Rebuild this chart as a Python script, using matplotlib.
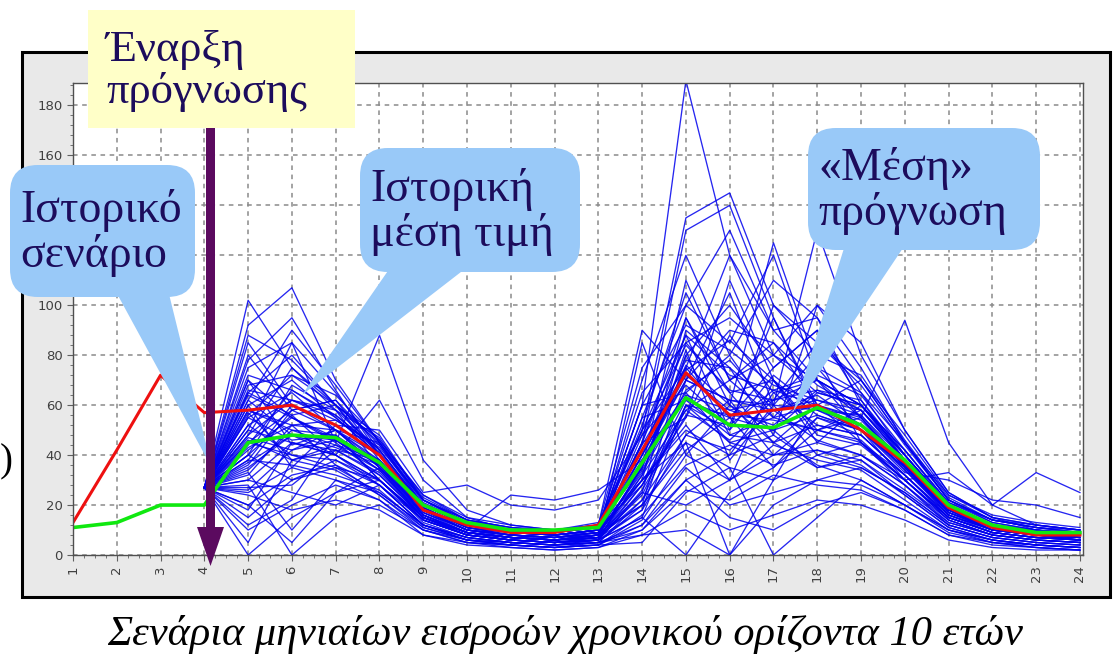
import matplotlib.pyplot as plt
from matplotlib.patches import Rectangle, FancyBboxPatch, Polygon
from matplotlib.ticker import MultipleLocator, AutoMinorLocator

# ---- data ----
months = list(range(1, 25))
hist_mean = [13, 42, 72, 57, 58, 60, 52, 40, 18, 12, 9, 9, 12, 42, 73, 56, 58, 60, 50, 37, 19, 11, 8, 8]
mean_forecast = [11, 13, 20, 20, 45, 48, 47, 37, 20, 13, 10, 10, 11, 37, 63, 52, 51, 59, 52, 38, 20, 12, 9, 9]

forecast_months = list(range(4, 25))
start_value = 27
# scenario values for months 5..24
scenarios = [
    [102, 75, 60, 40, 20, 12, 9, 8, 10, 60, 190, 120, 80, 70, 60, 40, 20, 12, 10, 8],
    [92, 107, 70, 45, 22, 14, 10, 9, 12, 50, 135, 145, 100, 85, 70, 45, 22, 13, 10, 9],
    [85, 60, 50, 35, 18, 10, 8, 6, 8, 45, 130, 140, 95, 60, 55, 35, 18, 10, 8, 6],
    [75, 85, 65, 42, 20, 12, 9, 8, 10, 70, 120, 80, 110, 95, 60, 40, 20, 12, 9, 8],
    [70, 55, 45, 88, 38, 18, 12, 10, 12, 35, 110, 70, 55, 60, 70, 45, 22, 14, 12, 10],
    [65, 80, 60, 38, 16, 9, 7, 6, 7, 55, 100, 130, 90, 70, 50, 30, 15, 9, 7, 6],
    [60, 70, 55, 40, 18, 10, 8, 7, 9, 30, 95, 60, 125, 75, 55, 35, 16, 10, 8, 7],
    [58, 50, 48, 30, 14, 8, 6, 5, 6, 25, 90, 75, 60, 130, 80, 50, 25, 15, 10, 8],
    [55, 65, 50, 35, 15, 9, 7, 6, 8, 40, 85, 65, 70, 50, 55, 94, 45, 20, 12, 10],
    [50, 45, 40, 62, 30, 15, 10, 8, 9, 20, 80, 100, 75, 90, 65, 40, 20, 12, 10, 8],
    [48, 75, 58, 35, 17, 10, 8, 7, 8, 35, 75, 55, 50, 65, 60, 38, 20, 12, 9, 8],
    [45, 40, 35, 30, 14, 8, 6, 5, 7, 18, 70, 90, 85, 60, 45, 30, 14, 8, 6, 5],
    [42, 55, 47, 38, 19, 11, 9, 8, 10, 60, 65, 45, 40, 55, 50, 35, 17, 11, 9, 8],
    [40, 30, 38, 28, 12, 7, 5, 4, 6, 15, 60, 50, 100, 80, 45, 28, 12, 7, 5, 4],
    [38, 60, 52, 40, 20, 12, 9, 8, 10, 45, 55, 110, 70, 45, 60, 40, 20, 12, 10, 8],
    [35, 48, 43, 36, 18, 10, 8, 7, 9, 30, 50, 40, 65, 70, 55, 36, 18, 11, 8, 7],
    [33, 10, 30, 25, 12, 6, 5, 4, 5, 20, 45, 35, 30, 40, 35, 25, 12, 7, 5, 4],
    [30, 25, 20, 28, 14, 8, 6, 5, 6, 85, 40, 60, 45, 35, 40, 30, 15, 9, 7, 6],
    [28, 0, 15, 20, 10, 5, 4, 3, 4, 12, 35, 20, 25, 30, 28, 20, 10, 6, 4, 3],
    [25, 35, 30, 22, 10, 6, 4, 3, 5, 10, 30, 15, 10, 20, 25, 18, 8, 5, 3, 2],
    [20, 5, 25, 35, 16, 9, 7, 6, 8, 25, 20, 30, 40, 45, 40, 28, 14, 8, 6, 5],
    [18, 45, 40, 30, 14, 8, 6, 5, 6, 15, 0, 25, 35, 50, 45, 32, 15, 9, 7, 6],
    [15, 30, 35, 25, 12, 7, 5, 4, 5, 8, 10, 0, 20, 30, 35, 25, 12, 7, 5, 4],
    [10, 20, 28, 22, 8, 5, 4, 3, 4, 5, 25, 35, 0, 15, 30, 20, 10, 6, 4, 3],
    [5, 38, 42, 32, 15, 9, 7, 6, 7, 22, 60, 45, 50, 35, 38, 26, 13, 8, 6, 5],
    [0, 15, 25, 30, 15, 9, 7, 6, 7, 30, 45, 0, 30, 60, 50, 35, 17, 10, 8, 7],
    [62, 90, 68, 45, 21, 13, 10, 9, 11, 65, 85, 95, 80, 100, 75, 45, 22, 14, 11, 9],
    [80, 58, 62, 44, 22, 14, 11, 10, 12, 75, 100, 85, 120, 70, 60, 42, 21, 14, 11, 9],
    [68, 72, 64, 46, 24, 15, 12, 10, 13, 50, 75, 120, 90, 95, 70, 48, 24, 15, 12, 10],
    [52, 62, 58, 42, 20, 12, 9, 8, 10, 38, 65, 80, 55, 75, 65, 45, 24, 16, 13, 11],
    [47, 42, 50, 45, 24, 14, 11, 9, 11, 28, 58, 70, 80, 65, 60, 42, 21, 13, 10, 9],
    [43, 52, 54, 43, 22, 13, 10, 9, 11, 40, 72, 58, 62, 85, 68, 44, 22, 14, 11, 9],
    [37, 48, 46, 34, 16, 9, 7, 6, 8, 35, 80, 48, 55, 50, 58, 38, 19, 11, 9, 8],
    [57, 38, 44, 38, 18, 11, 8, 7, 9, 45, 95, 65, 45, 60, 52, 36, 18, 11, 9, 7],
    [72, 66, 56, 41, 19, 11, 9, 8, 10, 55, 62, 55, 75, 90, 62, 38, 19, 12, 9, 8],
    [88, 78, 60, 46, 23, 14, 11, 10, 12, 90, 70, 105, 60, 80, 72, 46, 23, 14, 11, 10],
    [32, 52, 36, 24, 11, 6, 5, 4, 6, 18, 48, 62, 40, 42, 38, 24, 11, 6, 4, 3],
    [27, 28, 42, 38, 20, 12, 10, 9, 12, 30, 52, 30, 70, 48, 44, 30, 15, 9, 7, 6],
    [12, 22, 48, 30, 15, 9, 7, 6, 8, 20, 42, 55, 35, 55, 48, 32, 16, 10, 8, 7],
    [60, 35, 52, 50, 25, 28, 20, 18, 22, 48, 68, 52, 95, 58, 52, 34, 17, 11, 9, 8],
    [50, 85, 45, 32, 15, 9, 7, 6, 7, 32, 82, 38, 60, 40, 45, 30, 33, 20, 33, 25],
    [40, 68, 58, 47, 22, 13, 10, 9, 11, 42, 78, 75, 48, 100, 85, 50, 25, 15, 12, 10],
    [65, 56, 40, 30, 14, 8, 6, 5, 6, 28, 55, 88, 65, 52, 48, 32, 16, 10, 8, 6],
    [78, 95, 66, 40, 19, 11, 8, 7, 9, 52, 105, 70, 85, 68, 58, 38, 19, 12, 9, 8],
    [45, 58, 62, 40, 18, 10, 24, 22, 26, 38, 70, 62, 58, 62, 56, 36, 18, 11, 8, 7],
    [55, 46, 48, 36, 17, 10, 8, 7, 8, 45, 88, 50, 72, 58, 50, 33, 30, 22, 20, 15],
    [36, 58, 50, 37, 18, 10, 8, 7, 9, 33, 64, 58, 52, 66, 62, 40, 20, 12, 9, 8],
    [66, 62, 54, 44, 20, 12, 9, 8, 10, 60, 92, 82, 68, 62, 58, 40, 20, 12, 10, 8],
    [30, 45, 42, 33, 15, 8, 6, 5, 7, 28, 62, 48, 45, 52, 48, 32, 15, 9, 7, 6],
    [52, 40, 38, 30, 13, 7, 5, 4, 5, 22, 48, 42, 58, 46, 40, 28, 13, 8, 6, 5],
    [44, 66, 55, 40, 18, 10, 7, 6, 8, 48, 84, 66, 62, 70, 60, 40, 19, 11, 8, 7],
    [58, 52, 50, 38, 16, 9, 6, 5, 6, 36, 76, 60, 50, 56, 50, 34, 16, 9, 7, 6],
    [26, 42, 46, 34, 15, 8, 6, 5, 6, 26, 56, 52, 66, 60, 54, 36, 17, 10, 8, 6],
    [62, 48, 40, 28, 12, 6, 4, 3, 4, 14, 40, 30, 44, 38, 34, 22, 10, 5, 4, 3],
    [38, 36, 32, 26, 11, 6, 4, 3, 4, 16, 36, 44, 36, 42, 36, 24, 11, 6, 4, 3],
    [48, 62, 56, 42, 19, 11, 8, 7, 9, 40, 70, 62, 60, 58, 56, 38, 18, 11, 8, 7],
    [70, 44, 50, 40, 17, 9, 7, 6, 8, 34, 66, 78, 58, 64, 52, 36, 17, 10, 8, 6],
    [20, 32, 36, 28, 12, 7, 5, 4, 5, 12, 30, 40, 48, 36, 30, 20, 9, 5, 3, 2],
    [34, 50, 44, 34, 15, 8, 6, 5, 7, 24, 60, 56, 54, 50, 46, 30, 14, 8, 6, 5],
    [56, 72, 60, 45, 20, 12, 9, 8, 10, 50, 88, 72, 66, 72, 64, 42, 20, 12, 9, 8],
    [46, 38, 34, 24, 10, 5, 3, 2, 3, 10, 26, 22, 32, 28, 26, 18, 8, 4, 3, 2],
    [64, 55, 46, 36, 16, 9, 7, 6, 7, 32, 58, 46, 62, 66, 58, 38, 18, 10, 8, 7],
    [40, 56, 60, 48, 22, 13, 10, 8, 10, 44, 74, 86, 70, 56, 50, 36, 18, 11, 9, 8],
    [24, 18, 22, 18, 8, 4, 3, 2, 3, 8, 18, 10, 16, 22, 20, 14, 6, 3, 2, 2],
]

caption = "Σενάρια μηνιαίων εισροών χρονικού ορίζοντα 10 ετών"
start_label = "Έναρξη\nπρόγνωσης"
callouts = ["Ιστορικό\nσενάριο", "Ιστορική\nμέση τιμή", "«Μέση»\nπρόγνωση"]

# ---- figure ----
W, H = 1115, 660
fig = plt.figure(figsize=(W / 100, H / 100), dpi=100)


def fx(px):
    return px / W


def fy(py):
    return 1 - py / H


text_color = "#1c0c5c"
bubble = "#99c9f8"
serif = ["Liberation Serif", "DejaVu Serif"]

# grey panel behind the chart
fig.patches.append(Rectangle((fx(22), fy(597)), fx(1110) - fx(22), fy(52) - fy(597),
                             transform=fig.transFigure, facecolor="#e9e9e9",
                             edgecolor="black", linewidth=2.2, zorder=-1))

ax = fig.add_axes([fx(73), fy(555), fx(1083) - fx(73), fy(83) - fy(555)])
ax.set_facecolor("white")

for s in scenarios:
    ax.plot(forecast_months, [start_value] + s, color="#0000ee", linewidth=0.95, alpha=0.85)
ax.plot(months, hist_mean, color="#ee1010", linewidth=2.2)
ax.plot(months, mean_forecast, color="#10e810", linewidth=2.6)

ax.set_xlim(1, 24.07)
ax.set_ylim(0, 189)
ax.xaxis.set_major_locator(MultipleLocator(1))
ax.xaxis.set_minor_locator(AutoMinorLocator(4))
ax.yaxis.set_major_locator(MultipleLocator(20))
ax.yaxis.set_minor_locator(AutoMinorLocator(5))
ax.grid(True, which="major", color="#8a8a8a", linestyle=(0, (3, 3)), linewidth=1.1)
ax.tick_params(axis="both", which="major", labelsize=9.5, labelcolor="#404040",
               color="#606060", length=4, direction="out")
ax.tick_params(axis="both", which="minor", color="#606060", length=2, direction="out")
for lab in ax.get_xticklabels():
    lab.set_rotation(90)
for sp in ax.spines.values():
    sp.set_color("#505050")
    sp.set_linewidth(1.0)

# ---- "start of forecast" box and arrow ----
fig.patches.append(Rectangle((fx(88), fy(128)), fx(355) - fx(88), fy(10) - fy(128),
                             transform=fig.transFigure, facecolor="#ffffc8",
                             edgecolor="none", zorder=5))
fig.text(fx(106), fy(71), start_label, fontsize=32, family=serif, color=text_color,
         ha="left", va="center", linespacing=1.05, zorder=6)
arrow_px = [(206, 128), (215, 128), (215, 527), (224, 527), (210.5, 566),
            (197, 527), (206, 527)]
fig.patches.append(Polygon([(fx(x), fy(y)) for x, y in arrow_px], closed=True,
                           transform=fig.transFigure, facecolor="#5b0a5f",
                           edgecolor="none", zorder=5))


# ---- callout bubbles ----
def add_bubble(box, tail, text, text_x):
    x0, y0, x1, y1 = box
    fig.patches.append(Polygon([(fx(x), fy(y)) for x, y in tail], closed=True,
                               transform=fig.transFigure, facecolor=bubble,
                               edgecolor="none", zorder=4))
    fig.patches.append(FancyBboxPatch((fx(x0), fy(y1)), fx(x1) - fx(x0), fy(y0) - fy(y1),
                                      boxstyle="round,pad=0,rounding_size=0.025",
                                      mutation_aspect=W / H,
                                      transform=fig.transFigure, facecolor=bubble,
                                      edgecolor="none", zorder=4))
    fig.text(fx(text_x), fy((y0 + y1) / 2 + 2), text, fontsize=33, family=serif,
             color=text_color, ha="left", va="center", linespacing=1.05, zorder=6)


add_bubble((10, 165, 195, 297), [(115, 290), (168, 290), (212, 468)], callouts[0], 20)
add_bubble((360, 148, 580, 272), [(392, 265), (470, 265), (302, 395)], callouts[1], 370)
add_bubble((808, 128, 1040, 250), [(845, 245), (905, 245), (793, 412)], callouts[2], 818)

# ---- caption and stray bracket ----
fig.text(0.507, fy(634), caption, fontsize=30.5, family=serif, style="italic",
         color="black", ha="center", va="center")
fig.text(fx(0), fy(462), ")", fontsize=28, family=serif, color="black",
         ha="left", va="center")

fig.savefig("out.png", dpi=100)
